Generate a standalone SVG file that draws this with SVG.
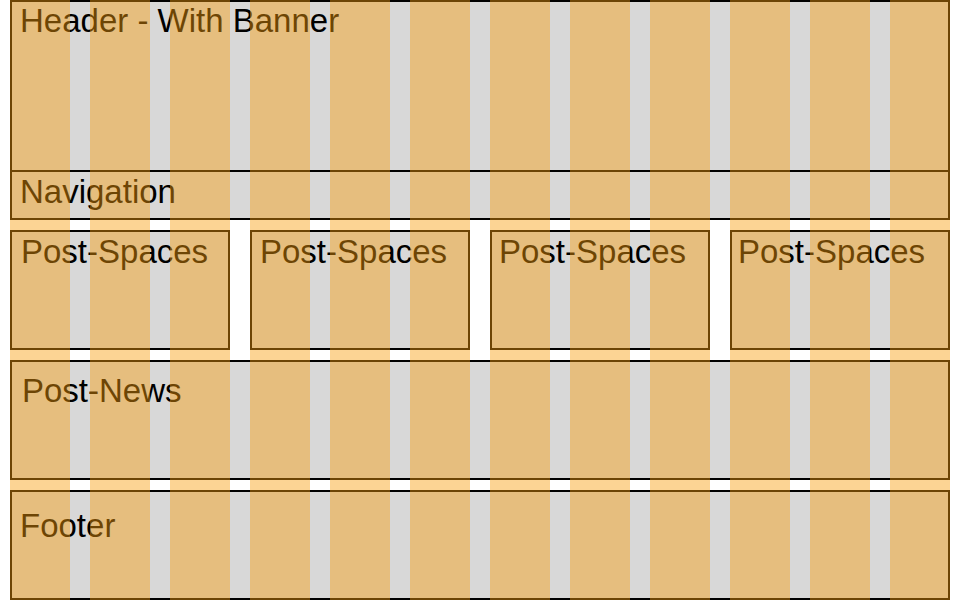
<svg xmlns="http://www.w3.org/2000/svg" width="960" height="600" viewBox="0 0 960 600">
  <style>
    .box { fill: #d8d8d8; stroke: #000000; stroke-width: 2; }
    .label { font-family: "Liberation Sans", Arial, sans-serif; font-size: 33px; fill: #000000; }
    .col { fill: #f89e0c; fill-opacity: 0.44; }
  </style>
  <rect x="0" y="0" width="960" height="600" fill="#ffffff"/>
  <g id="header">
    <rect class="box" x="11" y="1" width="938" height="170"/>
    <text class="label" x="20" y="32">Header - With Banner</text>
  </g>
  <g id="navigation">
    <rect class="box" x="11" y="171" width="938" height="48"/>
    <text class="label" x="20" y="203">Navigation</text>
  </g>
  <g id="post-spaces-1">
    <rect class="box" x="11" y="231" width="218" height="118"/>
    <text class="label" x="21" y="263">Post-Spaces</text>
  </g>
  <g id="post-spaces-2">
    <rect class="box" x="251" y="231" width="218" height="118"/>
    <text class="label" x="260" y="263">Post-Spaces</text>
  </g>
  <g id="post-spaces-3">
    <rect class="box" x="491" y="231" width="218" height="118"/>
    <text class="label" x="499" y="263">Post-Spaces</text>
  </g>
  <g id="post-spaces-4">
    <rect class="box" x="731" y="231" width="218" height="118"/>
    <text class="label" x="738" y="263">Post-Spaces</text>
  </g>
  <g id="post-news">
    <rect class="box" x="11" y="361" width="938" height="118"/>
    <text class="label" x="22" y="402">Post-News</text>
  </g>
  <g id="footer">
    <rect class="box" x="11" y="491" width="938" height="108"/>
    <text class="label" x="20" y="537">Footer</text>
  </g>
  <g id="grid-overlay">
    <rect class="col" x="10" y="0" width="60" height="600"/>
    <rect class="col" x="90" y="0" width="60" height="600"/>
    <rect class="col" x="170" y="0" width="60" height="600"/>
    <rect class="col" x="250" y="0" width="60" height="600"/>
    <rect class="col" x="330" y="0" width="60" height="600"/>
    <rect class="col" x="410" y="0" width="60" height="600"/>
    <rect class="col" x="490" y="0" width="60" height="600"/>
    <rect class="col" x="570" y="0" width="60" height="600"/>
    <rect class="col" x="650" y="0" width="60" height="600"/>
    <rect class="col" x="730" y="0" width="60" height="600"/>
    <rect class="col" x="810" y="0" width="60" height="600"/>
    <rect class="col" x="890" y="0" width="60" height="600"/>
  </g>
</svg>
